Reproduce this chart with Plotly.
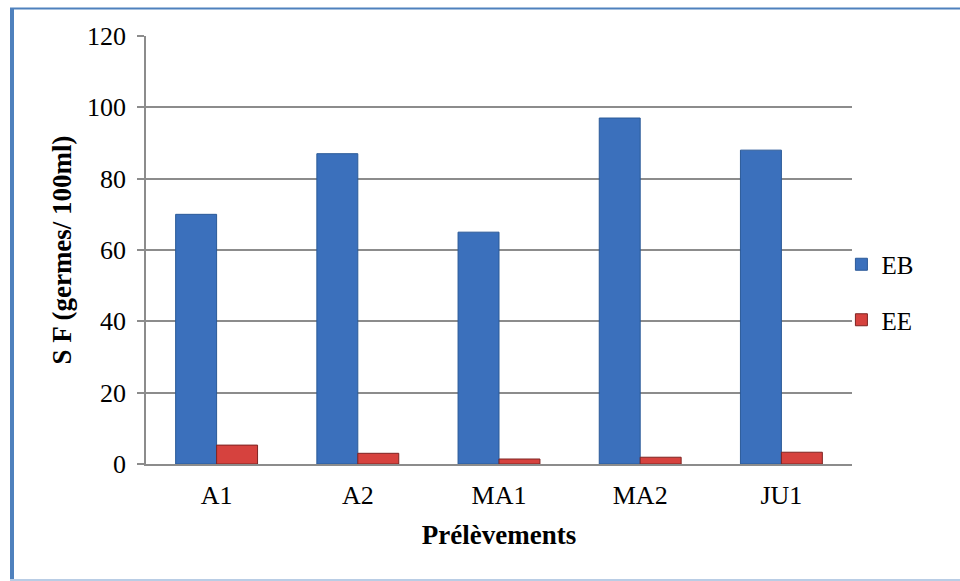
import plotly.graph_objects as go

# Sample sites and faecal streptococci counts (germes / 100 ml)
categories = ["A1", "A2", "MA1", "MA2", "JU1"]
eb_values = [70, 87, 65, 97, 88]
ee_values = [5.3, 3.0, 1.4, 1.9, 3.3]
y_ticks = [0, 20, 40, 60, 80, 100, 120]

W, H = 960, 581
ML, MR, MT, MB = 146, 108, 36, 117
PW, PH = W - ML - MR, H - MT - MB


def px_x(px):
    return (px - ML) / PW


def px_y(py):
    return 1 - (py - MT) / PH


FONT = "Liberation Serif"

fig = go.Figure()
fig.add_trace(go.Bar(
    name="EB", x=categories, y=eb_values, legendgroup="EB",
    marker=dict(color="#3B70BC", line=dict(color="#2B5A98", width=1)),
))
fig.add_trace(go.Bar(
    name="EE", x=categories, y=ee_values, legendgroup="EE",
    marker=dict(color="#D6423E", line=dict(color="#7E2422", width=1)),
))

# Frame around the chart area
frame = [
    dict(x0=px_x(12), x1=px_x(12), y0=px_y(9), y1=px_y(580), width=4, color="#4F81BD"),
    dict(x0=px_x(10), x1=px_x(960), y0=px_y(8.5), y1=px_y(8.5), width=2, color="#4F81BD"),
    dict(x0=px_x(10), x1=px_x(960), y0=px_y(580), y1=px_y(580), width=2, color="#B9CDE5"),
]
shapes = [
    dict(type="line", xref="paper", yref="paper", x0=f["x0"], x1=f["x1"],
         y0=f["y0"], y1=f["y1"], line=dict(color=f["color"], width=f["width"]))
    for f in frame
]

fig.update_layout(
    width=W, height=H,
    margin=dict(l=ML, r=MR, t=MT, b=MB, pad=0),
    paper_bgcolor="white", plot_bgcolor="white",
    barmode="group", bargap=0.42, bargroupgap=0,
    font=dict(family=FONT, size=26, color="black"),
    showlegend=True,
    legend=dict(x=0.985, y=px_y(292), xanchor="left", yanchor="middle",
                font=dict(family=FONT, size=25), traceorder="grouped",
                tracegroupgap=20, itemwidth=30, bgcolor="rgba(0,0,0,0)"),
    shapes=shapes,
    xaxis=dict(
        showline=True, linecolor="#8C8C8C", linewidth=1.5,
        ticks="", tickfont=dict(family=FONT, size=26), ticklabelstandoff=7,
        title=dict(text="<b>Prélèvements</b>", font=dict(family=FONT, size=27), standoff=16),
    ),
    yaxis=dict(
        range=[0, 120], tickvals=y_ticks,
        showgrid=True, gridcolor="#8C8C8C", gridwidth=1.5,
        showline=True, linecolor="#8C8C8C", linewidth=1.5,
        ticks="outside", ticklen=7, tickcolor="#8C8C8C", tickwidth=1.5,
        tickfont=dict(family=FONT, size=26), ticklabelstandoff=6, zeroline=False,
        title=dict(text="<b>S F (germes/ 100ml)</b>", font=dict(family=FONT, size=27), standoff=8),
    ),
)

fig.write_html("out.html")
